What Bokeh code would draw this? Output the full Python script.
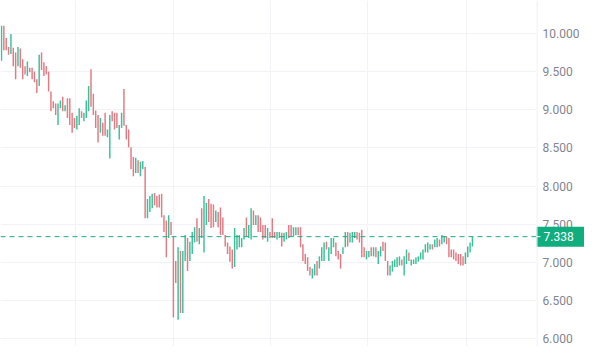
from bokeh.plotting import figure
from bokeh.layouts import row
from bokeh.models import ColumnDataSource, Span, FixedTicker, Range1d, Grid
from bokeh.core.properties import value
from bokeh.embed import file_html
from bokeh.resources import INLINE

# Candle bodies (open / close)
opens = [9.64, 10.10, 9.94, 9.82, 9.73, 9.81, 9.75, 9.57, 9.80, 9.66,
         9.57, 9.44, 9.55, 9.55, 9.50, 9.40, 9.31, 9.75, 9.62, 9.57,
         9.50, 9.24, 9.11, 9.08, 8.80, 9.02, 9.17, 8.98, 9.15, 9.15,
         8.96, 8.89, 8.74, 8.80, 8.98, 8.85, 8.89, 8.98, 9.53, 9.21,
         8.99, 8.93, 8.70, 8.83, 8.96, 8.64, 8.36, 8.98, 8.96, 8.96,
         8.61, 8.76, 9.27, 8.80, 8.74, 8.51, 8.38, 8.17, 8.34, 8.13,
         8.22, 8.25, 7.58, 7.66, 7.71, 7.91, 7.87, 7.89, 7.90, 7.62,
         7.55, 7.32, 7.53, 7.34, 7.02, 6.25, 7.15, 6.34, 7.02, 7.32,
         7.02, 7.11, 7.26, 7.58, 7.24, 7.71, 7.13, 7.49, 7.83, 7.77,
         7.76, 7.53, 7.66, 7.72, 7.59, 7.36, 7.26, 7.21, 7.17, 6.94,
         7.17, 7.20, 7.20, 7.30, 7.59, 7.32, 7.30, 7.68, 7.49, 7.62,
         7.59, 7.49, 7.49, 7.27, 7.40, 7.58, 7.40, 7.30, 7.32, 7.39,
         7.27, 7.30, 7.49, 7.49, 7.34, 7.36, 7.46, 7.46, 7.24, 7.11,
         7.07, 6.94, 6.79, 6.83, 7.02, 6.92, 7.02, 7.02, 7.27, 7.02,
         7.11, 7.20, 7.26, 7.15, 7.11, 7.11, 7.20, 7.40, 7.26, 7.26,
         7.32, 7.40, 7.39, 7.43, 7.20, 7.04, 7.07, 7.20, 7.08, 7.20,
         6.98, 7.08, 7.27, 7.26, 7.02, 6.83, 6.88, 6.94, 6.94, 6.96,
         7.04, 6.83, 6.98, 7.13, 6.96, 6.98, 6.98, 7.01, 7.04, 7.04,
         7.13, 7.13, 7.17, 7.24, 7.20, 7.20, 7.30, 7.24, 7.26, 7.34,
         7.32, 7.17, 7.17, 7.13, 7.11, 7.11, 7.08, 6.98, 7.07, 7.13,
         7.21]
closes = [10.10, 9.78, 9.78, 9.72, 9.99, 9.57, 9.40, 9.82, 9.55, 9.40,
          9.46, 9.63, 9.49, 9.40, 9.36, 9.22, 9.72, 9.52, 9.44, 9.46,
          9.24, 8.98, 9.02, 8.93, 9.08, 9.12, 8.98, 9.06, 8.89, 8.80,
          8.70, 8.76, 8.92, 9.02, 8.89, 8.96, 9.12, 9.31, 9.04, 8.93,
          8.76, 8.57, 8.89, 8.66, 8.66, 8.74, 8.93, 8.85, 8.74, 8.76,
          8.80, 8.96, 8.79, 8.61, 8.51, 8.22, 8.13, 8.37, 8.17, 8.32,
          8.33, 7.58, 7.83, 7.87, 7.90, 7.75, 7.72, 7.72, 7.59, 7.40,
          7.07, 7.62, 7.36, 6.28, 6.73, 7.20, 6.34, 7.15, 7.36, 6.89,
          7.27, 7.40, 7.46, 7.27, 7.45, 7.32, 7.87, 7.78, 7.53, 7.45,
          7.46, 7.68, 7.46, 7.36, 7.36, 7.21, 7.11, 7.01, 6.92, 7.45,
          7.36, 7.36, 7.32, 7.45, 7.34, 7.49, 7.71, 7.49, 7.62, 7.40,
          7.40, 7.30, 7.32, 7.45, 7.32, 7.32, 7.32, 7.40, 7.40, 7.21,
          7.39, 7.40, 7.32, 7.34, 7.46, 7.46, 7.36, 7.20, 7.02, 6.98,
          6.89, 6.83, 6.92, 6.98, 6.83, 7.08, 7.20, 7.26, 7.17, 7.20,
          7.32, 7.32, 7.08, 7.04, 6.92, 7.20, 7.40, 7.21, 7.39, 7.40,
          7.40, 7.30, 7.26, 7.07, 7.07, 7.15, 7.15, 7.08, 7.20, 7.07,
          7.15, 7.21, 7.15, 7.02, 6.83, 6.96, 7.02, 7.04, 7.07, 7.08,
          6.96, 7.08, 7.17, 7.02, 7.04, 7.04, 7.07, 7.08, 7.13, 7.17,
          7.24, 7.26, 7.24, 7.17, 7.30, 7.32, 7.21, 7.36, 7.34, 7.24,
          7.07, 7.07, 7.04, 7.02, 6.98, 6.96, 6.96, 7.13, 7.21, 7.26,
          7.338]

last_price = 7.338
price_ticks = [6.0, 6.5, 7.0, 7.5, 8.0, 8.5, 9.0, 9.5, 10.0]
price_labels = [f"{t:.3f}" for t in price_ticks]
session_ticks = [31.4, 73.0, 114.2, 155.4, 197.5]

UP = "#3bc09a"
DOWN = "#e27a83"
GRID = "#f2f3f6"
TAG = "#10ad7e"

idx = list(range(len(opens)))
tops = [max(o, c) for o, c in zip(opens, closes)]
bottoms = [min(o, c) for o, c in zip(opens, closes)]
colors = [UP if c >= o else DOWN for o, c in zip(opens, closes)]
src = ColumnDataSource(dict(x=idx, top=tops, bottom=bottoms, color=colors))

yr = Range1d(5.90, 10.430)

# main price pane
p = figure(width=536, height=346, output_backend="svg", toolbar_location=None,
           x_axis_location=None, y_axis_location=None,
           x_range=Range1d(-0.425, 227.2), y_range=yr,
           min_border_left=0, min_border_top=0, min_border_bottom=0, min_border_right=0)
p.outline_line_color = None
p.background_fill_color = "white"
p.border_fill_color = "white"
p.center = []
p.add_layout(Grid(dimension=1, ticker=FixedTicker(ticks=price_ticks), grid_line_color=GRID))
p.add_layout(Grid(dimension=0, ticker=FixedTicker(ticks=session_ticks), grid_line_color=GRID))

p.vbar(x="x", top="top", bottom="bottom", width=0.62, color="color", source=src, line_width=0)

p.add_layout(Span(location=last_price, dimension="width", line_color="#22a887",
                  line_dash="5 4", line_width=1))

# price scale pane (right)
s = figure(width=48, height=346, output_backend="svg", toolbar_location=None,
           x_axis_location=None, y_axis_location=None,
           x_range=Range1d(0, 48), y_range=yr,
           min_border_left=0, min_border_top=0, min_border_bottom=0, min_border_right=0)
s.outline_line_color = None
s.background_fill_color = "white"
s.border_fill_color = "white"
s.center = []
s.add_layout(Span(location=0.5, dimension="height", line_color="#e9ebef", line_width=1))
s.text(x=[6] * len(price_ticks), y=price_ticks, text=price_labels,
       text_font=value("Roboto"), text_font_size="12px", text_color="#82858f",
       text_baseline="middle", text_align="left")
s.rect(x=[24], y=[last_price], width=48, height=20, height_units="screen",
       fill_color=TAG, line_color=None)
s.segment(x0=[0], x1=[4], y0=[last_price], y1=[last_price], line_color="white", line_width=1)
s.text(x=[7], y=[last_price], text=[f"{last_price:.3f}"],
       text_font=value("Roboto"), text_font_size="12px", text_color="white",
       text_baseline="middle", text_align="left")

layout = row(p, s, spacing=0)
open("out.html", "w").write(file_html(layout, INLINE))
